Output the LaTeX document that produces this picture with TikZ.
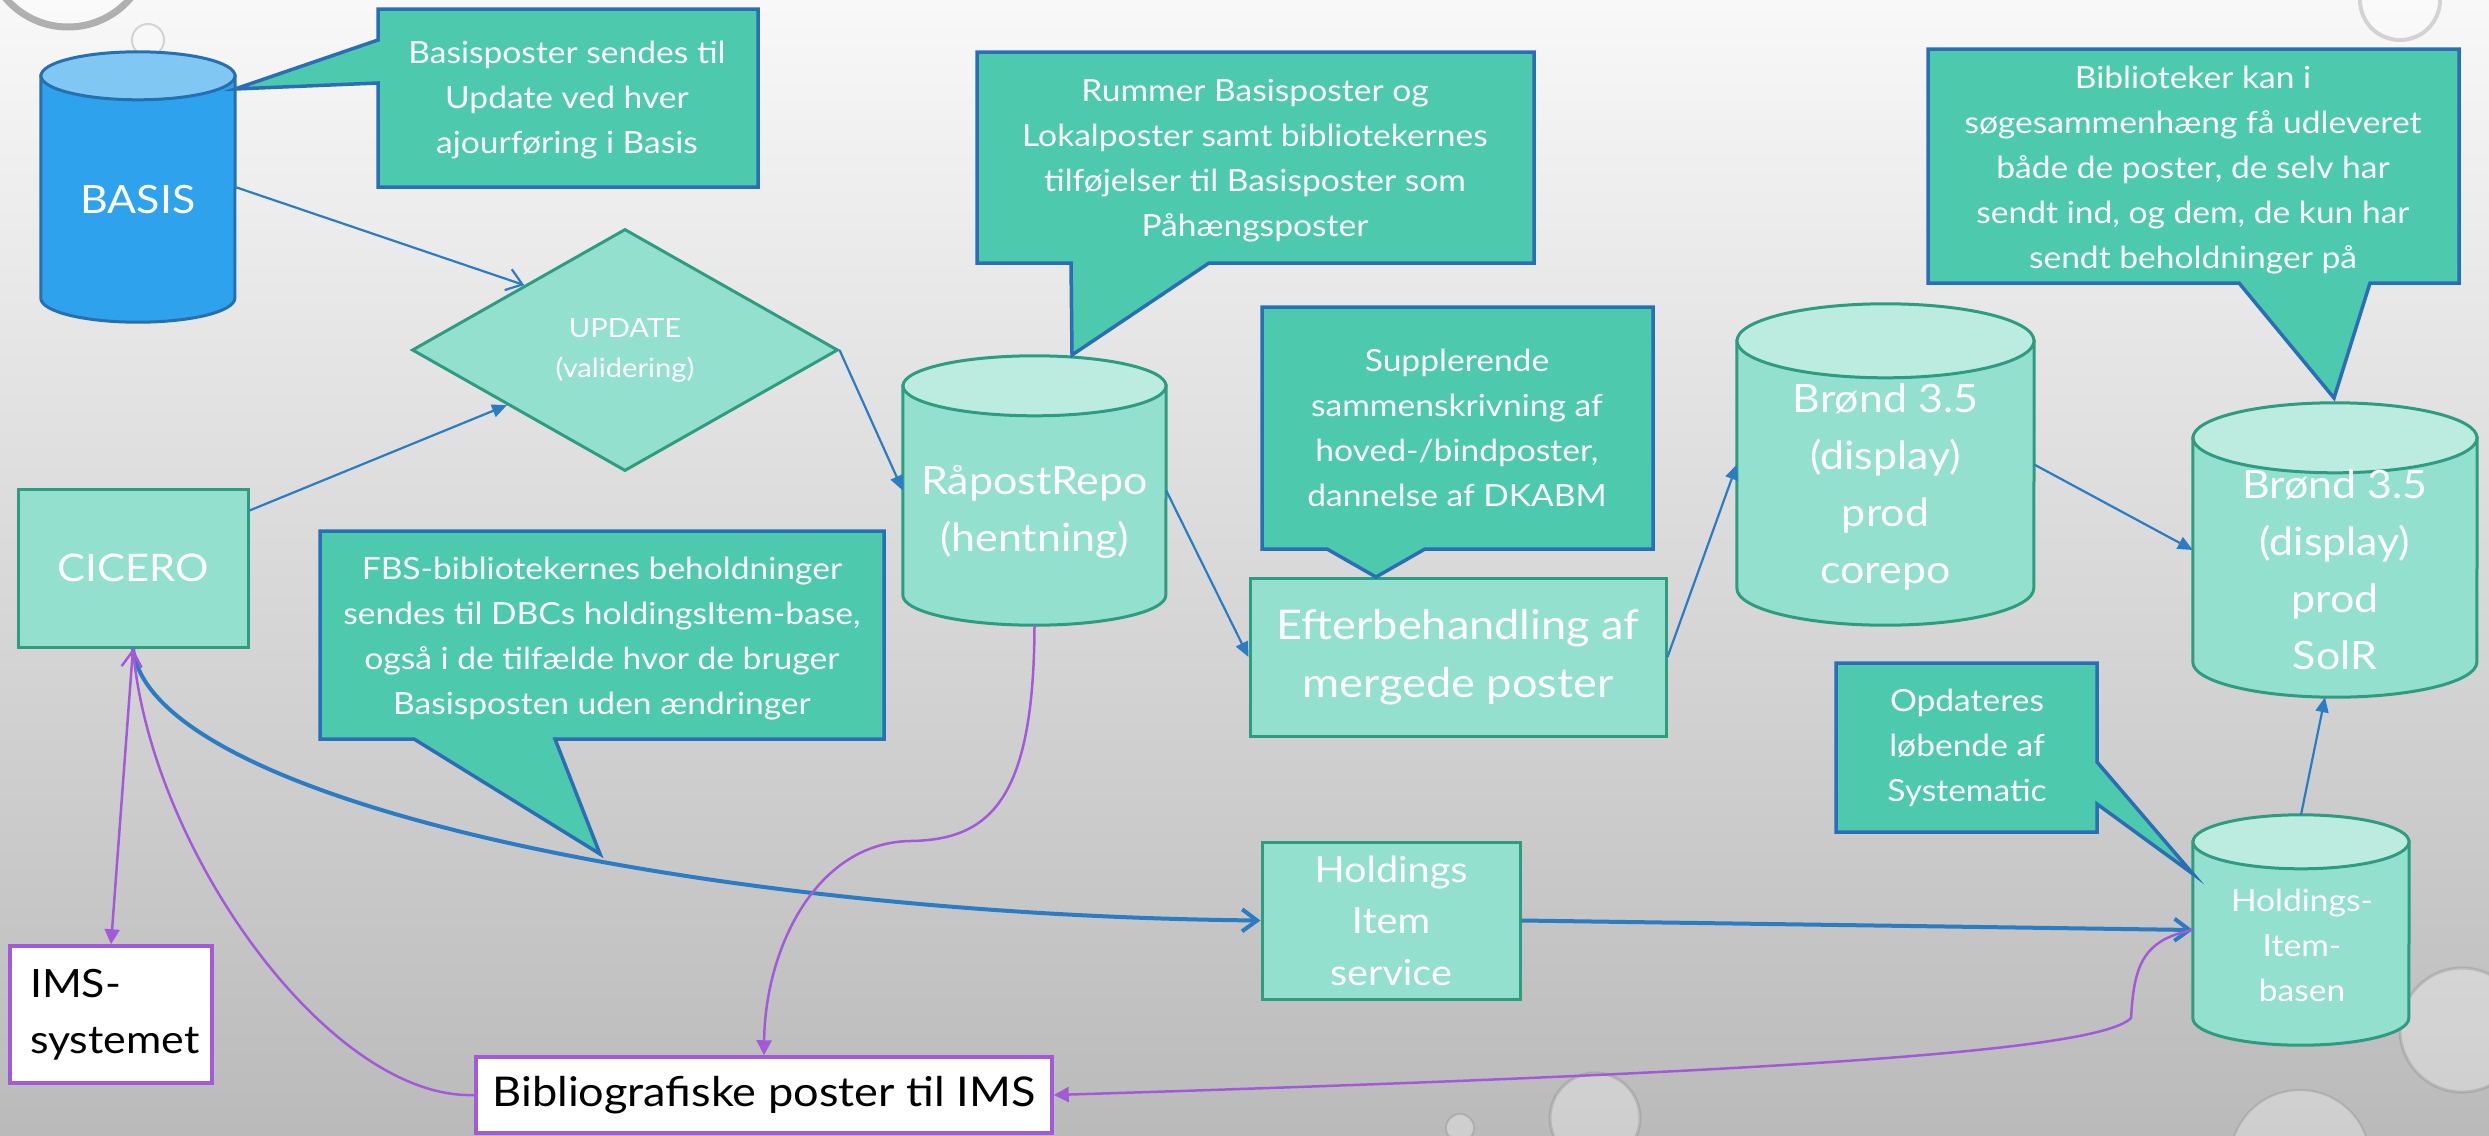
\documentclass[tikz,border=0pt]{standalone}
\usepackage{fontspec}
\setmainfont{Lato}[FakeStretch=1.1]
\usetikzlibrary{calc,shapes.geometric,arrows.meta}

\definecolor{notefill}{HTML}{4DC9AD}
\definecolor{noteline}{HTML}{2A6EB5}
\definecolor{procfill}{HTML}{93E0CE}
\definecolor{procline}{HTML}{2E9C80}
\definecolor{proccap}{HTML}{BCECE0}
\definecolor{basisfill}{HTML}{2EA2EC}
\definecolor{basiscapfill}{HTML}{80C8F3}
\definecolor{basisline}{HTML}{2570B0}
\definecolor{flowblue}{HTML}{2B7CC2}
\definecolor{flowpurple}{HTML}{A35AD8}
\definecolor{bgtop}{HTML}{F8F8F8}
\definecolor{bgbottom}{HTML}{BABABA}

\newcommand{\fsnote}{\fontsize{30.5}{45}\selectfont}
\newcommand{\fsbig}{\fontsize{39}{57}\selectfont}
\newcommand{\fsefter}{\fontsize{41}{58}\selectfont}
\newcommand{\fsmid}{\fontsize{36}{51.5}\selectfont}
\newcommand{\fscicero}{\fontsize{38}{50}\selectfont}
\newcommand{\fssmall}{\fontsize{26.5}{40}\selectfont}
\newcommand{\fsims}{\fontsize{39}{56}\selectfont}
\newcommand{\fsbib}{\fontsize{41}{50}\selectfont}

% cylinder round a named node: node, x radius, y radius, body style, cap style
\newcommand{\dbcyl}[5]{%
  \filldraw[#4] ([yshift=-#3pt]#1.north west) -- ([yshift=#3pt]#1.south west)
    arc[start angle=180, end angle=360, x radius=#2, y radius=#3]
    -- ([yshift=-#3pt]#1.north east) -- cycle;
  \filldraw[#5] ([yshift=-#3pt]#1.north) ellipse[x radius=#2, y radius=#3];
}

\begin{document}
\begin{tikzpicture}[x=1pt,y=1pt,
  proc/.style={draw=procline, fill=procfill, line width=3pt, text=white, align=center, inner sep=0pt},
  db/.style={inner sep=0pt},
  dbbody/.style={fill=procfill, draw=procline, line width=3pt},
  dbcap/.style={fill=proccap, draw=procline, line width=3pt},
  basisbody/.style={fill=basisfill, draw=basisline, line width=3pt},
  basiscap/.style={fill=basiscapfill, draw=basisline, line width=3pt},
  dbtext/.style={text=white, align=center, inner sep=0pt},
  notebox/.style={fill=notefill, draw=noteline, line width=3.5pt},
  notetext/.style={text=white, align=center, inner sep=0pt, font=\fsnote},
  imsbox/.style={draw=flowpurple, fill=white, line width=3.5pt, text=black, inner sep=0pt},
  flow/.style={draw=flowblue, line width=2.2pt},
  bigflow/.style={draw=flowblue, line width=4pt},
  imsflow/.style={draw=flowpurple, line width=2.5pt},
  fillhead/.style={-{Triangle[length=15pt,width=13pt]}},
  openhead/.style={-{Straight Barb[length=15pt,width=22pt]}},
  imshead/.style={-{Triangle[length=15pt,width=15pt]}},
  droplet/.style={fill=white, fill opacity=0.3, draw=gray, draw opacity=0.3, line width=2pt}]

\useasboundingbox (0,0) rectangle (2489,-1135);
\fill[top color=bgtop, bottom color=bgbottom] (0,0) rectangle (2489,-1135);

% water drops of the slide background
\draw[droplet, draw opacity=0.6, line width=7pt] (68,55) circle[radius=82];
\draw[droplet] (148,-40) circle[radius=16];
\draw[droplet, line width=4pt] (2400,0) circle[radius=40];
\draw[droplet, line width=3pt] (2462,-1030) circle[radius=62];
\draw[droplet] (2300,-1160) circle[radius=70];
\draw[droplet, line width=3pt] (1595,-1118) circle[radius=45];
\draw[droplet] (1460,-1128) circle[radius=14];

% databases
\node[db, minimum width=194pt, minimum height=270pt] (basis) at (138,-187) {};
\dbcyl{basis}{97}{24}{basisbody}{basiscap}
\node[dbtext, font=\fsbig] (basislabel) at (138,-200) {BASIS};

\node[db, minimum width=263pt, minimum height=269pt] (raapost) at (1034.5,-490.5) {};
\dbcyl{raapost}{131.5}{30}{dbbody}{dbcap}
\node[dbtext, font=\fsbig] (raapostlabel) at (1034.5,-512) {RåpostRepo\\(hentning)};

\node[db, minimum width=297pt, minimum height=321pt] (corepo) at (1885.5,-464.5) {};
\dbcyl{corepo}{148.5}{37}{dbbody}{dbcap}
\node[dbtext, font=\fsbig] (corepolabel) at (1885.5,-487) {Brønd 3.5\\(display)\\prod\\corepo};

\node[db, minimum width=284pt, minimum height=294pt] (solr) at (2335,-550) {};
\dbcyl{solr}{142}{35}{dbbody}{dbcap}
\node[dbtext, font=\fsbig] (solrlabel) at (2335,-569.5) {Brønd 3.5\\(display)\\prod\\SolR};

\node[db, minimum width=216pt, minimum height=230pt] (hib) at (2301,-930) {};
\dbcyl{hib}{108}{27}{dbbody}{dbcap}
\node[dbtext, font=\fsnote] (hiblabel) at (2302,-945) {Holdings-\\Item-\\basen};

% process boxes
\node[diamond, aspect=1.76, draw=procline, fill=procfill, line width=3pt, text=white, align=center,
  inner sep=0pt, minimum width=426pt, minimum height=242pt, font=\fssmall] (update) at (625,-350) {UPDATE\\(validering)};
\node[proc, minimum width=230pt, minimum height=158pt, font=\fscicero] (cicero) at (133,-568) {CICERO};
\node[proc, minimum width=416pt, minimum height=158pt, font=\fsefter] (efter) at (1458,-657) {Efterbehandling af\\mergede poster};
\node[proc, minimum width=258pt, minimum height=157pt, font=\fsmid] (his) at (1391,-920.5) {Holdings\\Item\\service};

\node[imsbox, minimum width=202pt, minimum height=137pt, text width=162pt, inner xsep=20pt, align=left, font=\fsims] (ims) at (111,-1014.5) {IMS-\\systemet};
\node[imsbox, minimum width=576pt, minimum height=76pt, font=\fsbib] (bib) at (764,-1095) {Bibliografiske poster til IMS};

% callouts
\filldraw[notebox] (378,-9) -- (758,-9) -- (758,-187) -- (378,-187) -- (378,-83) -- (235,-89) -- (378,-40) -- cycle;
\node[notetext] (basisnote) at (567,-100) {Basisposter sendes til\\Update ved hver\\ajourføring i Basis};

\filldraw[notebox] (977,-52) -- (1534,-52) -- (1534,-263) -- (1209,-263) -- (1072,-355) -- (1071,-263) -- (977,-263) -- cycle;
\node[notetext] (rummernote) at (1255,-161) {Rummer Basisposter og\\Lokalposter samt bibliotekernes\\tilføjelser til Basisposter som\\Påhængsposter};

\filldraw[notebox] (1262,-307) -- (1653,-307) -- (1653,-549) -- (1425,-549) -- (1376,-577) -- (1327,-549) -- (1262,-549) -- cycle;
\node[notetext] (suppnote) at (1457,-428) {Supplerende\\sammenskrivning af\\hoved-/bindposter,\\dannelse af DKABM};

\filldraw[notebox] (1928,-49) -- (2459,-49) -- (2459,-283) -- (2370,-283) -- (2334,-398) -- (2239,-283) -- (1928,-283) -- cycle;
\node[notetext] (bibnote) at (2193,-170) {Biblioteker kan i\\søgesammenhæng få udleveret\\både de poster, de selv har\\sendt ind, og dem, de kun har\\sendt beholdninger på};

\filldraw[notebox] (320,-531) -- (884,-531) -- (884,-739) -- (555,-739) -- (600,-854) -- (414,-739) -- (320,-739) -- cycle;
\node[notetext] (fbsnote) at (602,-639) {FBS-bibliotekernes beholdninger\\sendes til DBCs holdingsItem-base,\\også i de tilfælde hvor de bruger\\Basisposten uden ændringer};

\filldraw[notebox] (1836,-663) -- (2097,-663) -- (2097,-762) -- (2193,-874) -- (2097,-804) -- (2097,-832) -- (1836,-832) -- cycle;
\node[notetext] (opdnote) at (1967,-748) {Opdateres\\løbende af\\Systematic};

% blue flow
\draw[flow, openhead] (basis.east) -- ($(update.west)!0.53!(update.north)$);
\draw[flow, fillhead] ([yshift=-23pt]cicero.north east) -- ($(update.west)!0.45!(update.south)$);
\draw[flow, fillhead] (update.east) -- (raapost.west);
\draw[flow, fillhead] (raapost.east) -- (efter.west);
\draw[flow, fillhead] (efter.east) -- (corepo.west);
\draw[flow, fillhead] (corepo.east) -- (solr.west);
\draw[flow, fillhead] (hib.north) -- ([xshift=-10pt]solr.south);
\draw[bigflow, openhead] (cicero.south) .. controls (150,-800) and (700,-915) .. (his.west);
\draw[bigflow, openhead] (his.east) -- (hib.west);

% purple flow
\draw[imsflow, {Straight Barb[length=16pt,width=20pt]}-{Triangle[length=15pt,width=15pt]}] (cicero.south) -- (ims.north);
\draw[imsflow] (bib.west) .. controls (330,-1100) and (150,-850) .. (cicero.south);
\draw[imsflow, imshead] (raapost.south) .. controls (1034,-800) and (990,-840) .. (910,-841)
  .. controls (815,-843) and (765,-950) .. (bib.north);
\draw[imsflow, imshead] (hib.west) .. controls (2140,-940) and (2134,-970) .. (2131,-1018)
  .. controls (2100,-1050) and (1800,-1072) .. (bib.east);

\end{tikzpicture}
\end{document}
